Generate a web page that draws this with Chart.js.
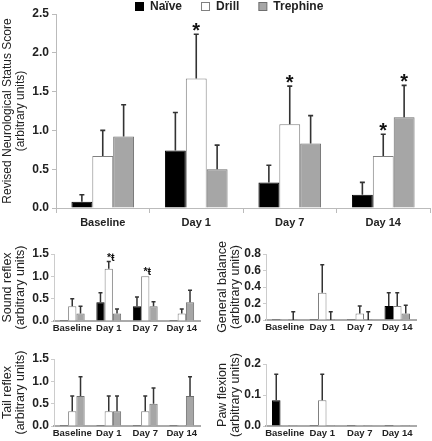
<!DOCTYPE html>
<html><head><meta charset="utf-8">
<script src="https://cdn.jsdelivr.net/npm/chart.js@4/dist/chart.umd.min.js"></script>
<style>
html,body{margin:0;padding:0;background:#fff;}
body{width:432px;height:441px;position:relative;overflow:hidden;}
canvas{position:absolute;display:block;}
</style></head><body>
<canvas id="main" width="432" height="236" style="left:0;top:0"></canvas>
<canvas id="sound" width="216" height="100" style="left:0;top:236px"></canvas>
<canvas id="balance" width="216" height="100" style="left:216px;top:236px"></canvas>
<canvas id="tail" width="216" height="105" style="left:0;top:336px"></canvas>
<canvas id="paw" width="216" height="105" style="left:216px;top:336px"></canvas>
<script>
// ---------- data ----------
const categories = ['Baseline', 'Day 1', 'Day 7', 'Day 14'];
const seriesNames = ['Naïve', 'Drill', 'Trephine'];

// Revised Neurological Status Score
const mainNaive = [0.08, 0.74, 0.33, 0.17];
const mainNaiveErr = [0.09, 0.49, 0.22, 0.16];
const mainDrill = [0.67, 1.67, 1.08, 0.67];
const mainDrillErr = [0.33, 0.57, 0.49, 0.28];
const mainTrephine = [0.92, 0.50, 0.83, 1.17];
const mainTrephineErr = [0.41, 0.31, 0.36, 0.41];
const mainDrillMarks = ['', '*', '*', '*'];
const mainTrephineMarks = ['', '', '', '*'];

// Sound reflex
const soundNaive = [0, 0.42, 0.33, 0];
const soundNaiveErr = [0, 0.21, 0.21, 0];
const soundDrill = [0.33, 1.17, 1.0, 0.17];
const soundDrillErr = [0.17, 0.16, 0, 0.10];
const soundTrephine = [0.17, 0.17, 0.33, 0.42];
const soundTrephineErr = [0.16, 0.10, 0.10, 0.27];
const soundDrillMarks = ['', '*ŧ', '*ŧ', ''];

// General balance
const balanceNaive = [0, 0, 0, 0.17];
const balanceNaiveErr = [0, 0, 0, 0.16];
const balanceDrill = [0, 0.33, 0.08, 0.17];
const balanceDrillErr = [0, 0.34, 0.09, 0.16];
const balanceTrephine = [0, 0, 0, 0.08];
const balanceTrephineErr = [0.10, 0.10, 0.10, 0.10];

// Tail reflex
const tailNaive = [0, 0, 0, 0];
const tailNaiveErr = [0, 0, 0, 0];
const tailDrill = [0.33, 0.33, 0.33, 0];
const tailDrillErr = [0.34, 0.34, 0.34, 0];
const tailTrephine = [0.67, 0.33, 0.5, 0.67];
const tailTrephineErr = [0.43, 0.34, 0.35, 0.43];

// Paw flexion
const pawNaive = [0.083, 0, 0, 0];
const pawNaiveErr = [0.084, 0, 0, 0];
const pawDrill = [0, 0.083, 0, 0];
const pawDrillErr = [0, 0.084, 0, 0];
const pawTrephine = [0, 0, 0, 0];
const pawTrephineErr = [0, 0, 0, 0];

// ---------- styles ----------
const FILL = ['#000000', '#ffffff', '#a6a6a6'];
const EDGE = ['#000000', '#808080', '#6e6e6e'];
const TXT = '#222';
const SANS = '"Liberation Sans", Arial, sans-serif';

function hasFont(name) {
  const c = document.createElement('canvas').getContext('2d');
  c.font = '20px monospace';
  const a = c.measureText('Baseline Day 14').width;
  c.font = '20px "' + name + '", monospace';
  const b = c.measureText('Baseline Day 14').width;
  return Math.abs(a - b) > 0.5;
}
const narrow = hasFont('Liberation Sans Narrow');
const smallXFont = narrow
  ? {family: '"Liberation Sans Narrow", ' + SANS, size: 11, weight: 'bold'}
  : {family: SANS, size: 9.5, weight: 'bold'};

const errorBars = {
  id: 'errorBars',
  afterDatasetsDraw(chart, args, o) {
    const ctx = chart.ctx, y = chart.scales.y;
    chart.data.datasets.forEach((ds, i) => {
      const meta = chart.getDatasetMeta(i);
      meta.data.forEach((bar, j) => {
        const v = ds.data[j], e = ds.err ? ds.err[j] : 0;
        const y0 = y.getPixelForValue(v);
        const y1 = y.getPixelForValue(v + e);
        ctx.save();
        if (e > 0) {
          ctx.strokeStyle = '#333';
          ctx.lineWidth = o.lw;
          ctx.beginPath();
          ctx.moveTo(bar.x, y0);
          ctx.lineTo(bar.x, y1);
          ctx.moveTo(bar.x - o.cap / 2, y1);
          ctx.lineTo(bar.x + o.cap / 2, y1);
          ctx.stroke();
        }
        const m = ds.marks ? ds.marks[j] : '';
        if (m) {
          ctx.fillStyle = '#111';
          ctx.textAlign = 'center';
          ctx.textBaseline = 'alphabetic';
          ctx.font = 'bold 20px ' + SANS;
          let mt = ctx.measureText(m);
          const h20 = mt.actualBoundingBoxAscent + mt.actualBoundingBoxDescent;
          const size = Math.max(6, 20 * o.markH / (h20 || 1));
          ctx.font = 'bold ' + size.toFixed(1) + 'px ' + SANS;
          mt = ctx.measureText(m);
          const desc = mt.actualBoundingBoxDescent;
          const bottom = y1 - o.gap;
          ctx.fillText(m, bar.x + o.markDx, bottom - desc);
        }
        ctx.restore();
      });
    });
  }
};

const topLegend = {
  id: 'topLegend',
  afterDraw(chart) {
    const ctx = chart.ctx;
    ctx.save();
    ctx.font = 'bold 12px ' + SANS;
    ctx.textBaseline = 'middle';
    ctx.textAlign = 'left';
    let x = 135;
    chart.data.datasets.forEach((ds, i) => {
      ctx.fillStyle = ds.backgroundColor;
      ctx.fillRect(x + 0.5, 2.5, 8, 8);
      ctx.strokeStyle = ds.borderColor;
      ctx.lineWidth = 1;
      ctx.strokeRect(x + 0.5, 2.5, 8, 8);
      ctx.fillStyle = TXT;
      ctx.fillText(ds.label, x + 15, 6.5);
      x += 15 + ctx.measureText(ds.label).width + 19;
    });
    ctx.restore();
  }
};

function makeDatasets(vals, errs, marks, minLen) {
  return vals.map((v, i) => ({
    label: seriesNames[i],
    data: v,
    err: errs[i],
    marks: marks[i],
    backgroundColor: FILL[i],
    borderColor: EDGE[i],
    borderWidth: 1,
    borderSkipped: 'start',
    minBarLength: minLen
  }));
}

// ---------- main chart ----------
new Chart(document.getElementById('main'), {
  type: 'bar',
  data: {
    labels: categories,
    datasets: makeDatasets(
      [mainNaive, mainDrill, mainTrephine],
      [mainNaiveErr, mainDrillErr, mainTrephineErr],
      [null, mainDrillMarks, mainTrephineMarks], 0)
  },
  options: {
    responsive: false, animation: false,
    devicePixelRatio: 1,
    layout: {padding: {top: 14, right: 2, left: 0, bottom: 0}},
    datasets: {bar: {categoryPercentage: 0.67, barPercentage: 1}},
    plugins: {
      legend: {display: false}, tooltip: {enabled: false},
      errorBars: {lw: 1.6, cap: 5, markH: 8, gap: 3.5, markDx: 0}
    },
    scales: {
      x: {
        grid: {display: true, drawOnChartArea: false, drawTicks: true, tickLength: 5, color: '#bbb', offset: true},
        border: {display: true, color: '#bbb'},
        ticks: {color: TXT, font: {family: SANS, size: 11, weight: 'bold'}, padding: 3, maxRotation: 0, autoSkip: false},
        afterFit(s) { s.height = 28; }
      },
      y: {
        min: 0, max: 2.5,
        grid: {display: true, drawOnChartArea: false, drawTicks: true, tickLength: 4, color: '#bbb'},
        border: {display: true, color: '#bbb'},
        ticks: {stepSize: 0.5, autoSkip: false, color: TXT, font: {family: SANS, size: 12, weight: 'bold'}, padding: 3,
          callback: v => Number(v).toFixed(1)},
        title: {display: true, text: ['Revised Neurological Status Score', '(arbitrary units)'],
          color: TXT, font: {family: SANS, size: 12, lineHeight: 1.08}, padding: {top: 1.5, bottom: 0}},
        afterFit(s) { s.width = 56; }
      }
    }
  },
  plugins: [errorBars, topLegend]
});

// ---------- small charts ----------
function smallChart(id, titleText, yMax, step, vals, errs, marks, geo) {
  new Chart(document.getElementById(id), {
    type: 'bar',
    data: {labels: categories, datasets: makeDatasets(vals, errs, marks, 1)},
    options: {
      responsive: false, animation: false,
      devicePixelRatio: 1,
      layout: {padding: {top: geo.top, right: geo.right, left: 0, bottom: 0}},
      datasets: {bar: {categoryPercentage: 0.68, barPercentage: 1}},
      plugins: {
        legend: {display: false}, tooltip: {enabled: false},
        errorBars: {lw: 1.5, cap: 4, markH: 7.5, gap: 1, markDx: 2}
      },
      scales: {
        x: {
          grid: {display: false, drawTicks: false, tickLength: 0},
          border: {display: true, color: '#aaa', width: 2},
          ticks: {color: TXT, font: smallXFont, padding: 2, maxRotation: 0, autoSkip: false},
          afterFit(s) { s.height = geo.xh; }
        },
        y: {
          min: 0, max: yMax,
          grid: {display: true, drawOnChartArea: false, drawTicks: true, tickLength: 3, color: '#ccc'},
          border: {display: true, color: '#ccc'},
          ticks: {stepSize: step, autoSkip: false, color: TXT, font: {family: SANS, size: 12, weight: 'bold'}, padding: 2,
            callback: v => Number(v).toFixed(1)},
          title: {display: true, text: titleText, color: TXT,
            font: {family: SANS, size: 12.5, lineHeight: 1.05}, padding: {top: geo.tp, bottom: 0}},
          afterFit(s) { s.width = geo.w; }
        }
      }
    },
    plugins: [errorBars]
  });
}

smallChart('sound', ['Sound reflex', '(arbitrary units)'], 1.5, 0.5,
  [soundNaive, soundDrill, soundTrephine],
  [soundNaiveErr, soundDrillErr, soundTrephineErr],
  [null, soundDrillMarks, null],
  {top: 18, right: 16, xh: 15, w: 54, tp: 1});

smallChart('balance', ['General balance', '(arbitrary units)'], 0.8, 0.2,
  [balanceNaive, balanceDrill, balanceTrephine],
  [balanceNaiveErr, balanceDrillErr, balanceTrephineErr],
  [null, null, null],
  {top: 18, right: 16, xh: 16, w: 50, tp: 0});

smallChart('tail', ['Tail reflex', '(arbitrary units)'], 1.5, 0.5,
  [tailNaive, tailDrill, tailTrephine],
  [tailNaiveErr, tailDrillErr, tailTrephineErr],
  [null, null, null],
  {top: 23, right: 16, xh: 15, w: 54, tp: 1});

smallChart('paw', ['Paw flexion', '(arbitrary units)'], 0.2, 0.1,
  [pawNaive, pawDrill, pawTrephine],
  [pawNaiveErr, pawDrillErr, pawTrephineErr],
  [null, null, null],
  {top: 28, right: 16, xh: 15, w: 50, tp: 0});
</script>
</body></html>
